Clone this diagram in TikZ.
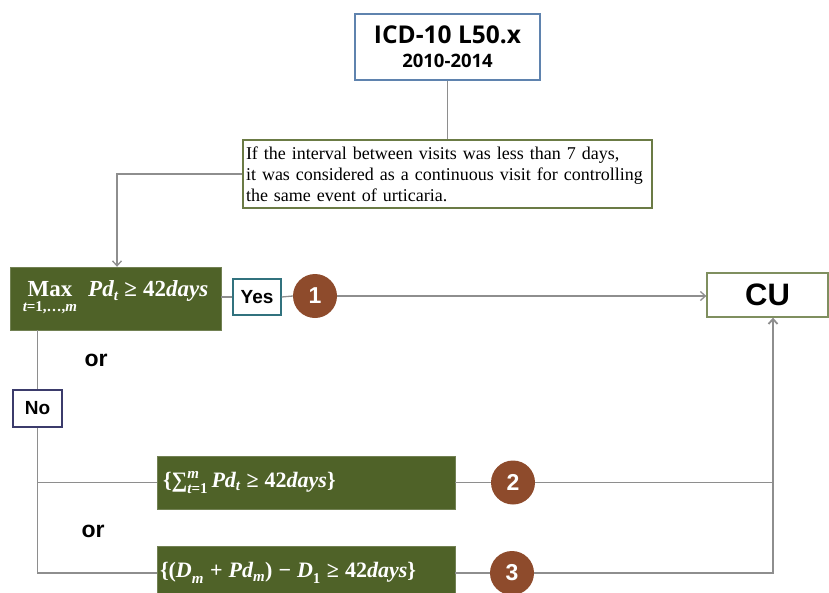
\documentclass[tikz,border=0pt]{standalone}
\usepackage{amsmath}
\usepackage[no-math]{fontspec}
\setmainfont{Liberation Serif}
\newfontfamily\arialf{Liberation Sans}
\newfontfamily\notof{Open Sans}
\usetikzlibrary{arrows.meta}
\definecolor{olivefill}{HTML}{4F6228}
\definecolor{brownc}{HTML}{8E4B2C}
\definecolor{linec}{HTML}{8E8E8E}
\definecolor{topb}{HTML}{5F83AE}
\definecolor{tbb}{HTML}{6B7B45}
\definecolor{cub}{HTML}{7F8F5F}
\definecolor{yesb}{HTML}{31727E}
\definecolor{nob}{HTML}{3B3B6B}
\newcommand{\bi}[1]{{\bfseries\itshape #1}}
\newcommand{\bu}[1]{{\bfseries #1}}
\newcommand{\gsp}{\hspace{6pt}}
\newcommand{\sbx}[1]{\hbox{\fontsize{15}{15}\selectfont\bfseries #1}}
\newcommand{\fmaxtxt}{\fontsize{23}{25}\selectfont$\mathop{\hbox{\bu{Max}}}\limits_{\sbx{\itshape t\upshape=1,…,\itshape m}}\;\hbox{\bi{Pd}}_{\sbx{\itshape t}}\hbox{\gsp\bu{≥}\gsp\bu{42}\bi{days}}$}
\newcommand{\fsumtxt}{\fontsize{22}{24}\selectfont\bu{\{}$\hbox{\bu{∑}}^{\sbx{\itshape m}}_{\sbx{\itshape t\upshape=1}}\,\hbox{\bi{Pd}}_{\sbx{\itshape t}}\hbox{\gsp\bu{≥}\gsp\bu{42}\bi{days}\bu{\}}}$}
\newcommand{\fdifftxt}{\fontsize{22}{24}\selectfont$\hbox{\bu{\{(}\bi{D}}_{\sbx{\itshape m}}\hbox{\gsp\bu{+}\gsp\bi{Pd}}_{\sbx{\itshape m}}\hbox{\bu{)}\gsp\bu{−}\gsp\bi{D}}_{\sbx{1}}\hbox{\gsp\bu{≥}\gsp\bu{42}\bi{days}\bu{\}}}$}
\newcommand{\ftoptxt}{{\fontsize{24.5}{28}\selectfont ICD-10 L50.x}\\[9pt]{\fontsize{18.5}{20}\selectfont 2010-2014}}
\tikzset{
  conn/.style={draw=linec, line width=1.3pt},
  arr/.style={conn, -{Straight Barb[length=5pt,width=9pt]}},
  greenbox/.style={fill=olivefill, draw=olivefill!80!white, inner sep=0pt, text=white},
  numc/.style={circle, fill=brownc, minimum size=44pt, inner sep=0pt, text=white, font=\arialf\bfseries\fontsize{23}{25}\selectfont},
  wbox/.style={draw, fill=white, line width=1.3pt, inner sep=0pt},
  orlab/.style={font=\arialf\bfseries\fontsize{23}{25}\selectfont},
}
\begin{document}
\begin{tikzpicture}[x=1pt,y=-1pt]
\useasboundingbox (0,0) rectangle (829,592);
\clip (0,0) rectangle (829,592);
\node[wbox, draw=topb, minimum width=185pt, minimum height=66pt, align=center, font=\notof\bfseries] (top) at (447.5,47) {\ftoptxt};
\node[wbox, draw=tbb, minimum width=409pt, minimum height=68pt, text width=403pt, align=left, font=\fontsize{18}{21}\selectfont] (tb) at (447.5,174)
  { If the interval between visits was less than 7 days,\\it was considered as a continuous visit for controlling\\the same event of urticaria.};
\node[greenbox, minimum width=211pt, minimum height=63pt] (mx) at (115.5,298.5) {\fmaxtxt};
\node[wbox, draw=yesb, minimum width=48pt, minimum height=36pt, font=\arialf\bfseries\fontsize{19}{21}\selectfont] (yes) at (257,297) {Yes};
\node[numc] (c1) at (315,296) {1};
\node[wbox, draw=cub, minimum width=121pt, minimum height=44pt, font=\arialf\bfseries\fontsize{31}{33}\selectfont] (cu) at (767.5,295) {CU};
\node[orlab] (or1) at (96,360) {or};
\node[wbox, draw=nob, minimum width=49pt, minimum height=37pt, font=\arialf\bfseries\fontsize{19}{21}\selectfont] (no) at (37.5,408.5) {No};
\node[greenbox, minimum width=298pt, minimum height=53pt, text width=286pt, align=left] (b2) at (306,482.5) {\fsumtxt};
\node[numc] (c2) at (513,482.5) {2};
\node[orlab] (or2) at (93,531) {or};
\node[greenbox, minimum width=298pt, minimum height=54pt, text width=292pt, align=left] (b3) at (306,573) {\fdifftxt};
\node[numc] (c3) at (512,573) {3};
\coordinate (rj) at (773,0);
% connectors
\draw[conn] (top) -- (tb);
\draw[arr] (tb.west) -| ([xshift=1.5pt]mx.north);
\draw[conn] (yes.west -| mx.east) -- (yes.west);
\draw[conn] (yes.east) -- (c1.west);
\draw[arr] (c1.east) -- (c1.east -| cu.west);
\draw[conn] (mx.south -| no.north) -- (no.north);
\draw[conn] (no.south) |- (b3.west);
\draw[conn] (no.south |- b2.west) -- (b2.west);
\draw[conn] (b2.east) -- (c2.west);
\draw[conn] (b3.east) -- (c3.west);
\draw[conn] (c2.east) -- (c2.east -| rj);
\draw[arr, line width=1.8pt] (c3.east) -| (rj |- cu.south);
\end{tikzpicture}
\end{document}
